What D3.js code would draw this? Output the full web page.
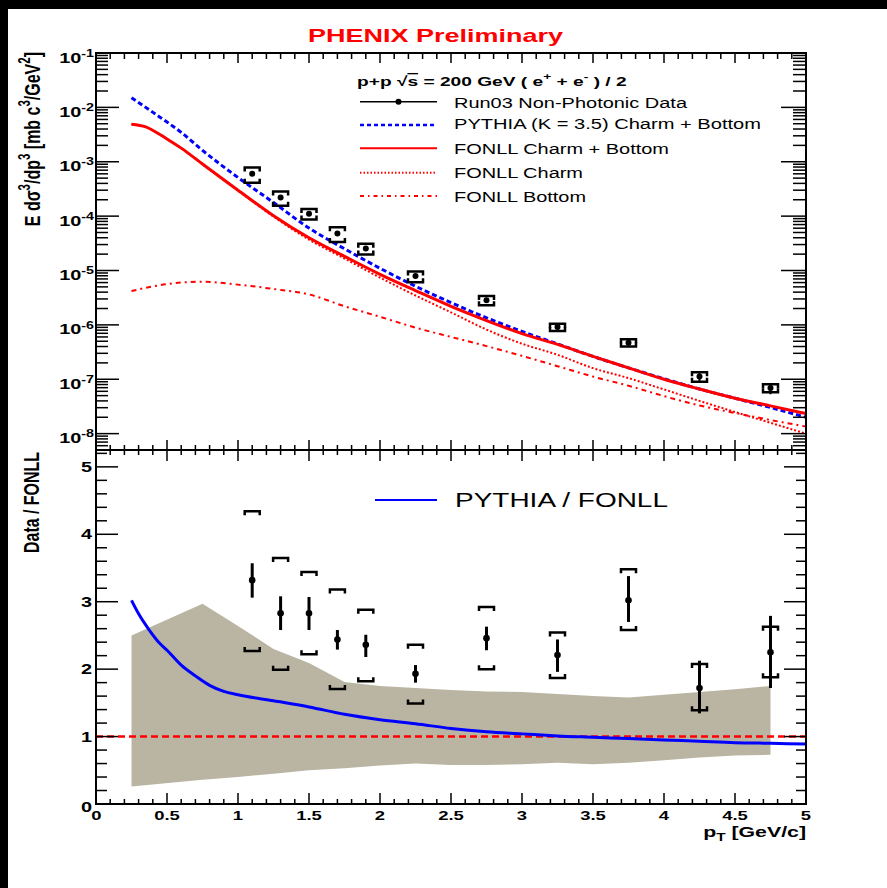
<!DOCTYPE html>
<html><head><meta charset="utf-8">
<script src="https://cdn.jsdelivr.net/npm/d3@7"></script>
<style>body{margin:0;background:#fff;overflow:hidden} svg{display:block} text{font-family:"Liberation Sans",Arial,Helvetica,sans-serif}</style>
</head><body><svg id="c" width="887" height="888"></svg>
<script>
// ---------------- data ----------------
const dataPt   = [1.1, 1.3, 1.5, 1.7, 1.9, 2.25, 2.75, 3.25, 3.75, 4.25, 4.75];
const dataY    = [6.0e-4, 2.2e-4, 1.11e-4, 4.8e-5, 2.55e-5, 7.9e-6, 2.85e-6, 9.1e-7, 4.7e-7, 1.12e-7, 6.9e-8];
const statLo   = [5.5e-4, 2.0e-4, 1.01e-4, 4.5e-5, 2.36e-5, 7.37e-6, 2.64e-6, 8.1e-7, 4.2e-7, 8.7e-8, 5.3e-8];
const statHi   = [6.45e-4, 2.4e-4, 1.2e-4, 5.07e-5, 2.71e-5, 8.43e-6, 3.05e-6, 1.0e-6, 5.27e-7, 1.38e-7, 8.55e-8];
const sysLo    = [4.1e-4, 1.55e-4, 8.7e-5, 3.35e-5, 1.97e-5, 6.1e-6, 2.3e-6, 7.7e-7, 4.0e-7, 9.0e-8, 5.75e-8];
const sysHi    = [7.8e-4, 2.84e-4, 1.35e-4, 6.25e-5, 3.1e-5, 9.6e-6, 3.4e-6, 1.05e-6, 5.45e-7, 1.35e-7, 8.1e-8];

const ratio       = [3.32, 2.83, 2.83, 2.44, 2.36, 1.93, 2.46, 2.21, 3.02, 1.72, 2.25];
const ratioStatLo = [3.06, 2.58, 2.58, 2.29, 2.18, 1.80, 2.28, 1.96, 2.70, 1.345, 1.72];
const ratioStatHi = [3.57, 3.08, 3.07, 2.58, 2.51, 2.06, 2.63, 2.44, 3.38, 2.125, 2.79];
const ratioSysLo  = [2.27, 1.99, 2.22, 1.705, 1.82, 1.49, 2.0, 1.87, 2.58, 1.39, 1.88];
const ratioSysHi  = [4.34, 3.65, 3.44, 3.18, 2.88, 2.36, 2.92, 2.545, 3.48, 2.075, 2.63];

const curvePt     = [0.25,0.35,0.45,0.5,0.6,0.75,1.0,1.25,1.5,1.75,2.0,2.25,2.5,2.75,3.0,3.25,3.5,3.75,4.0,4.25,4.5,4.75,5.0];
const pythiaCB    = [1.51e-2,1.0e-2,6.6e-3,5.37e-3,3.47e-3,1.62e-3,5.13e-4,1.78e-4,6.03e-5,2.51e-5,1.10e-5,5.13e-6,2.57e-6,1.35e-6,7.59e-7,4.47e-7,2.63e-7,1.62e-7,1.02e-7,6.61e-8,4.47e-8,3.02e-8,2.0e-8];
const fonllCB     = [4.9e-3,4.37e-3,3.16e-3,2.63e-3,1.78e-3,9.1e-4,3.0e-4,1.02e-4,4.0e-5,1.82e-5,8.5e-6,4.27e-6,2.19e-6,1.2e-6,6.9e-7,4.37e-7,2.63e-7,1.62e-7,1.0e-7,6.6e-8,4.47e-8,3.24e-8,2.34e-8];
const fonllCharm  = [4.9e-3,4.37e-3,3.16e-3,2.62e-3,1.77e-3,9.0e-4,2.95e-4,9.8e-5,3.7e-5,1.66e-5,7.4e-6,3.47e-6,1.7e-6,8.2e-7,4.5e-7,2.82e-7,1.6e-7,1.05e-7,6.5e-8,4.0e-8,2.5e-8,1.58e-8,1.0e-8];
const fonllBottom = [4.17e-6,4.8e-6,5.37e-6,5.6e-6,6.0e-6,6.2e-6,5.5e-6,4.57e-6,3.63e-6,2.2e-6,1.41e-6,8.9e-7,6.0e-7,4.07e-7,2.69e-7,1.74e-7,1.12e-7,7.6e-8,4.9e-8,3.3e-8,2.4e-8,1.78e-8,1.35e-8];

const ratioPt   = [0.25,0.3,0.375,0.45,0.5,0.6,0.7,0.8,0.9,1.0,1.25,1.5,1.75,2.0,2.25,2.5,2.75,3.0,3.25,3.5,3.75,4.0,4.25,4.5,4.75,5.0];
const pythiaRatio = [3.02,2.82,2.58,2.38,2.28,2.06,1.90,1.76,1.67,1.62,1.53,1.44,1.33,1.25,1.19,1.12,1.07,1.04,1.01,0.99,0.97,0.95,0.93,0.91,0.90,0.89];

const bandPt = [0.25,0.75,1.0,1.25,1.5,1.75,2.0,2.25,2.5,2.75,3.0,3.25,3.5,3.75,4.0,4.25,4.5,4.75];
const bandHi = [2.50,2.97,2.64,2.30,2.09,1.81,1.75,1.72,1.69,1.67,1.66,1.63,1.60,1.58,1.62,1.66,1.70,1.75];
const bandLo = [0.26,0.36,0.40,0.45,0.50,0.53,0.57,0.60,0.58,0.58,0.59,0.61,0.59,0.61,0.65,0.69,0.72,0.73];

const xTickVals   = [0,0.5,1,1.5,2,2.5,3,3.5,4,4.5,5];
const xTickLabels = ["0","0.5","1","1.5","2","2.5","3","3.5","4","4.5","5"];
const yTopExp     = [-1,-2,-3,-4,-5,-6,-7,-8];
const yBotTicks   = [0,1,2,3,4,5];
const legendLabels = ["Run03 Non-Photonic Data","PYTHIA (K = 3.5) Charm + Bottom","FONLL Charm + Bottom","FONLL Charm","FONLL Bottom"];

// ---------------- setup ----------------
const SX = 1.42;
const svg = d3.select("#c");
svg.append("rect").attr("width",887).attr("height",888).attr("fill","#fff");
svg.append("rect").attr("width",887).attr("height",9).attr("fill","#000");
svg.append("rect").attr("width",8).attr("height",888).attr("fill","#000");

const L=96, R=806, TT=53, MID=450, BB=804;
const x = d3.scaleLinear([0,5],[L,R]);
const yT = d3.scaleLog([5e-9,0.1],[MID,TT]);
const yB = d3.scaleLinear([0,5.25],[BB,MID]);

function T(parent, px, py, o){
  const g = parent.append("g").attr("transform",`translate(${px},${py}) scale(${SX},1)`+(o.rot?" rotate(-90)":""));
  const t = g.append("text").attr("font-size",o.size).attr("font-weight",o.bold?"bold":"normal")
    .attr("text-anchor",o.anchor||"start").attr("fill",o.fill||"#000");
  if(o.len){ t.attr("textLength", o.rot? o.len : o.len/SX).attr("lengthAdjust","spacingAndGlyphs"); }
  if(o.parts){
    o.parts.forEach(p=>{
      const s=t.append("tspan").text(p[0]);
      if(p[1]==="sup") s.attr("dy",-o.size*0.42).attr("font-size",o.size*0.72);
      else if(p[1]==="sub") s.attr("dy",o.size*0.3).attr("font-size",o.size*0.72);
      else if(p[1]==="ov") s.attr("text-decoration","overline");
      if(p[2]) s.attr("dy",p[2]);
    });
  } else t.text(o.text);
  return t;
}

// ---------------- bottom panel content ----------------
const gB = svg.append("g");
gB.append("path").datum(bandPt.map((p,i)=>[p,bandLo[i],bandHi[i]]))
  .attr("d", d3.area().x(d=>x(d[0])).y0(d=>yB(d[1])).y1(d=>yB(d[2])))
  .attr("fill","#bab5a3");
gB.append("line").attr("x1",x(0)).attr("x2",x(5)).attr("y1",yB(1)).attr("y2",yB(1))
  .attr("stroke","#ff0000").attr("stroke-width",2.5).attr("stroke-dasharray","7,4");
gB.append("path").datum(ratioPt.map((p,i)=>[p,pythiaRatio[i]]))
  .attr("d", d3.line().x(d=>x(d[0])).y(d=>yB(d[1])).curve(d3.curveMonotoneX))
  .attr("fill","none").attr("stroke","#0000ff").attr("stroke-width",3);

// ratio data
dataPt.forEach((p,i)=>{
  const cx=x(p), w=7.5, leg=4;
  gB.append("line").attr("x1",cx).attr("x2",cx).attr("y1",yB(ratioStatLo[i])).attr("y2",yB(ratioStatHi[i]))
    .attr("stroke","#000").attr("stroke-width",3);
  gB.append("path").attr("d",`M${cx-w},${yB(ratioSysHi[i])+leg}V${yB(ratioSysHi[i])}H${cx+w}V${yB(ratioSysHi[i])+leg}`)
    .attr("fill","none").attr("stroke","#000").attr("stroke-width",2.5);
  gB.append("path").attr("d",`M${cx-w},${yB(ratioSysLo[i])-leg}V${yB(ratioSysLo[i])}H${cx+w}V${yB(ratioSysLo[i])-leg}`)
    .attr("fill","none").attr("stroke","#000").attr("stroke-width",2.5);
  gB.append("circle").attr("cx",cx).attr("cy",yB(ratio[i])).attr("r",3.3).attr("fill","#000");
});

// bottom legend
gB.append("line").attr("x1",375).attr("x2",437).attr("y1",500).attr("y2",500).attr("stroke","#0000ff").attr("stroke-width",2);
T(gB,455,507,{size:20,text:"PYTHIA / FONLL",len:213});

// ---------------- top panel content ----------------
const gT = svg.append("g");
const lineT = d3.line().x(d=>x(d[0])).y(d=>yT(d[1])).curve(d3.curveMonotoneX);
function curve(vals, color, w, dash){
  gT.append("path").datum(curvePt.map((p,i)=>[p,vals[i]])).attr("d",lineT)
    .attr("fill","none").attr("stroke",color).attr("stroke-width",w).attr("stroke-dasharray",dash||null);
}
curve(fonllBottom,"#ff0000",2,"5,4,2,4");
curve(fonllCharm,"#ff0000",2,"2,2");
curve(pythiaCB,"#0000ff",3,"5,3");
curve(fonllCB,"#ff0000",3,null);

dataPt.forEach((p,i)=>{
  const cx=x(p), w=7.5, leg=4;
  gT.append("line").attr("x1",cx).attr("x2",cx).attr("y1",yT(statLo[i])).attr("y2",yT(statHi[i]))
    .attr("stroke","#000").attr("stroke-width",2);
  gT.append("path").attr("d",`M${cx-w},${yT(sysHi[i])+leg}V${yT(sysHi[i])}H${cx+w}V${yT(sysHi[i])+leg}`)
    .attr("fill","none").attr("stroke","#000").attr("stroke-width",2.5);
  gT.append("path").attr("d",`M${cx-w},${yT(sysLo[i])-leg}V${yT(sysLo[i])}H${cx+w}V${yT(sysLo[i])-leg}`)
    .attr("fill","none").attr("stroke","#000").attr("stroke-width",2.5);
  gT.append("circle").attr("cx",cx).attr("cy",yT(dataY[i])).attr("r",3).attr("fill","#000");
});

// top legend
T(gT,357,86,{size:13.5,bold:true,parts:[["p+p "],["√"],["s","ov"],[" = 200 GeV ( e"],["+","sup"],[" + e",null,13.5*0.42],["-","sup"],[" ) / 2",null,13.5*0.42]]});
const legY=[101.7,125,148.3,172.7,196], legBase=[109.3,130,155,179,202.7], legW=[233,307,215,129,132];
const legStyle=[["#000",1.5,null],["#0000ff",2.5,"4,3"],["#ff0000",2,null],["#ff0000",2,"1.5,2"],["#ff0000",2,"4,4,1.5,4"]];
legendLabels.forEach((s,i)=>{
  gT.append("line").attr("x1",360).attr("x2",437).attr("y1",legY[i]).attr("y2",legY[i])
    .attr("stroke",legStyle[i][0]).attr("stroke-width",legStyle[i][1]).attr("stroke-dasharray",legStyle[i][2]);
  T(gT,454,legBase[i]-1,{size:14,text:s,len:legW[i]});
});
gT.append("circle").attr("cx",398.5).attr("cy",legY[0]).attr("r",3).attr("fill","#000");

// ---------------- axes / frames ----------------
const gA = svg.append("g").attr("stroke","#000");
function vline(xx,y1,y2,w){gA.append("line").attr("x1",xx).attr("x2",xx).attr("y1",y1).attr("y2",y2).attr("stroke-width",w||1.5);}
function hline(yy,x1,x2,w){gA.append("line").attr("x1",x1).attr("x2",x2).attr("y1",yy).attr("y2",yy).attr("stroke-width",w||1.5);}
const xMinor = d3.range(0,51).map(i=>i/10);
xMinor.forEach(v=>{
  const major = Math.abs(v*2-Math.round(v*2))<1e-6;
  const xx=x(v);
  vline(xx,TT,TT+(major?10:6));
  vline(xx,MID-(major?10:5),MID+(major?11:5));
  vline(xx,BB-(major?11:5),BB);
});
// log ticks top
for(let e=-9;e<=-2;e++){
  for(let m=1;m<=9;m++){
    const v=m*Math.pow(10,e);
    if(v<5e-9||v>0.1) continue;
    const yy=yT(v), major=(m===1);
    hline(yy,L,L+(major?23:12));
    hline(yy,R-(major?25:13),R);
  }
}
hline(yT(0.1),L,L+23); hline(yT(0.1),R-25,R);
// linear ticks bottom
d3.range(0,27).map(i=>i*0.2).forEach(v=>{
  if(v>5.25) return;
  const major=Math.abs(v-Math.round(v))<1e-6, yy=yB(v);
  hline(yy,L,L+(major?22:11));
  hline(yy,R-(major?22:10),R);
});
gA.append("rect").attr("x",L).attr("y",TT).attr("width",R-L).attr("height",MID-TT).attr("fill","none").attr("stroke-width",2);
gA.append("rect").attr("x",L).attr("y",MID).attr("width",R-L).attr("height",BB-MID).attr("fill","none").attr("stroke-width",2);

// ---------------- labels ----------------
const gL = svg.append("g");
yTopExp.forEach(e=>{
  const yy=yT(Math.pow(10,e));
  T(gL,94,yy+9.5,{size:14,bold:true,anchor:"end",parts:[["10"],["-"+(-e),"sup"]]});
});
yBotTicks.forEach(v=>{
  const yy=yB(v);
  T(gL,92,yy+(v===0?8:5),{size:14,bold:true,anchor:"end",text:String(v)});
});
xTickVals.forEach((v,i)=>{
  T(gL,x(v)-(i===0?-0.5:0),819.5,{size:13,bold:true,anchor:"middle",text:xTickLabels[i]});
});
T(gL,806,836.5,{size:15,bold:true,anchor:"end",parts:[["p"],["T","sub"],[" [GeV/c]",null,-15*0.3]]});
T(gL,40,52,{size:16,bold:true,anchor:"end",rot:true,parts:[["E dσ"],["3","sup"],["/dp",null,16*0.42],["3","sup"],[" [mb c",null,16*0.42],["3","sup"],["/GeV",null,16*0.42],["2","sup"],["]",null,16*0.42]]});
T(gL,39,452,{size:16,bold:true,anchor:"end",rot:true,text:"Data / FONLL",len:101});
T(gL,435.5,42,{size:18,bold:true,anchor:"middle",fill:"#ff0000",text:"PHENIX Preliminary",len:255});
</script></body></html>
